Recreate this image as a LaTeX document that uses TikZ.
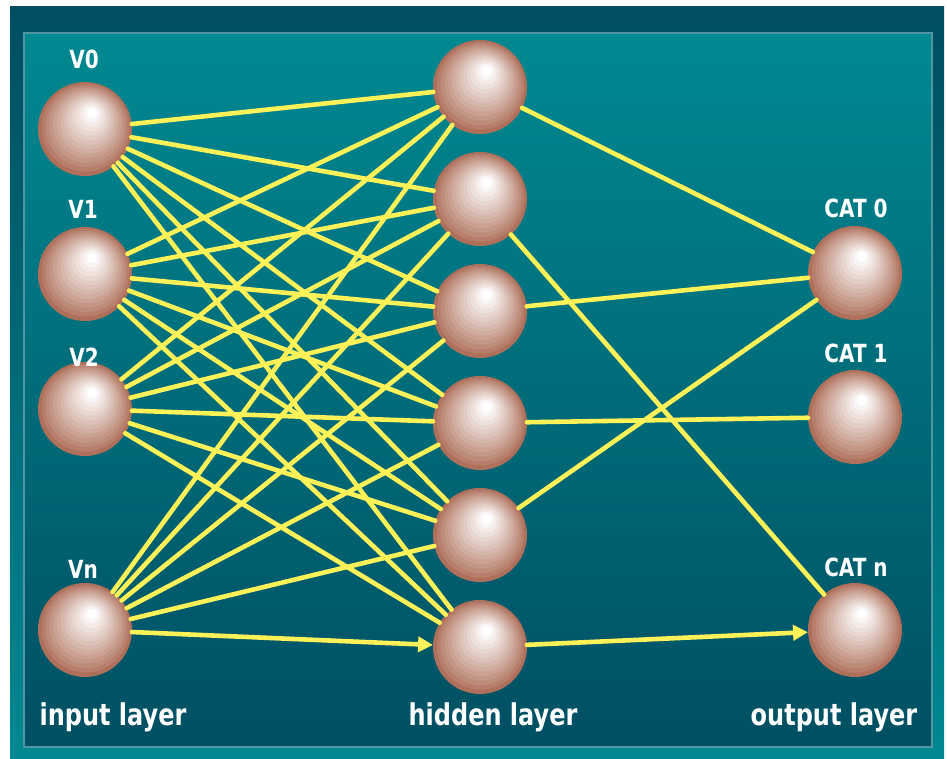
\documentclass[tikz,border=0pt]{standalone}
\usepackage{fontspec}
\newfontfamily\labfont{DejaVu Sans}[FakeStretch=0.8]
\usetikzlibrary{arrows.meta}

\definecolor{frameTop}{RGB}{0,78,98}
\definecolor{frameBot}{RGB}{0,136,144}
\definecolor{panelTop}{RGB}{0,137,145}
\definecolor{panelBot}{RGB}{0,79,98}
\definecolor{panelEdge}{RGB}{80,150,165}
\definecolor{wire}{RGB}{255,242,88}
\definecolor{ballEdge}{RGB}{174,112,90}

\tikzset{
  neuron/.style={circle, minimum size=94pt, inner sep=0pt, outer sep=0pt, fill=ballEdge,
    path picture={
      \foreach \i in {1,...,12}{
        \pgfmathsetmacro{\t}{\i/13}
        \pgfmathsetmacro{\pc}{100*(\t^0.9)}
        \pgfmathsetmacro{\rr}{47*(1-\t)+5*\t}
        \fill[white!\pc!ballEdge]
          ([shift={(7*\t,-16*\t)}]path picture bounding box.center) circle (\rr pt);
      }
      \fill[white] ([shift={(7,-16)}]path picture bounding box.center) circle (5pt);
    }},
  wirelink/.style={draw=wire, line width=4.6pt, line cap=round},
  arrowlink/.style={wirelink, -{Triangle[length=15pt,width=15pt]}},
  unitlabel/.style={text=white, anchor=base, inner sep=0pt,
    font=\labfont\bfseries\fontsize{25}{25}\selectfont},
  layerlabel/.style={text=white, anchor=base, inner sep=0pt,
    font=\labfont\bfseries\fontsize{30}{30}\selectfont}
}

\begin{document}
\begin{tikzpicture}[x=1pt,y=-1pt]
\useasboundingbox (0,0) rectangle (947,759);

% frame and panel
\shade[top color=frameTop, bottom color=frameBot] (10,7) rectangle (944,759);
\shade[top color=panelTop, bottom color=panelBot] (24,33) rectangle (932,747);
\draw[panelEdge, line width=1.2pt] (24,33) rectangle (932,747);

% input layer
\node[neuron] (v0) at (85,129) {};
\node[neuron] (v1) at (85,274) {};
\node[neuron] (v2) at (85,409) {};
\node[neuron] (vn) at (85,630) {};

% hidden layer
\node[neuron] (h0) at (480,87) {};
\node[neuron] (h1) at (480,199) {};
\node[neuron] (h2) at (480,311) {};
\node[neuron] (h3) at (480,423) {};
\node[neuron] (h4) at (480,535) {};
\node[neuron] (h5) at (480,647) {};

% output layer
\node[neuron] (c0) at (855,273) {};
\node[neuron] (c1) at (855,417) {};
\node[neuron] (cn) at (855,630) {};

% input -> hidden
\foreach \a in {v0,v1,v2}
  \foreach \b in {0,...,5}
    \draw[wirelink] (\a) -- (h\b);
\foreach \b in {0,...,4}
  \draw[wirelink] (vn) -- (h\b);
\draw[arrowlink] (vn) -- (h5);

% hidden -> output
\draw[wirelink] (h0) -- (c0);
\draw[wirelink] (h1) -- (cn);
\draw[wirelink] (h2) -- (c0);
\draw[wirelink] (h3) -- (c1);
\draw[wirelink] (h4) -- (c0);
\draw[arrowlink] (h5) -- (cn);

% labels
\node[unitlabel] (lv0) at (84,69) {V0};
\node[unitlabel] (lv1) at (83,219) {V1};
\node[unitlabel] (lv2) at (84,366) {V2};
\node[unitlabel] (lvn) at (83,578) {Vn};
\node[unitlabel] (lc0) at (856,218) {CAT 0};
\node[unitlabel] (lc1) at (856,362) {CAT 1};
\node[unitlabel] (lcn) at (856,576) {CAT n};

\node[layerlabel] (lin) at (113,725) {input layer};
\node[layerlabel] (lhid) at (493,725) {hidden layer};
\node[layerlabel] (lout) at (834,725) {output layer};
\end{tikzpicture}
\end{document}
